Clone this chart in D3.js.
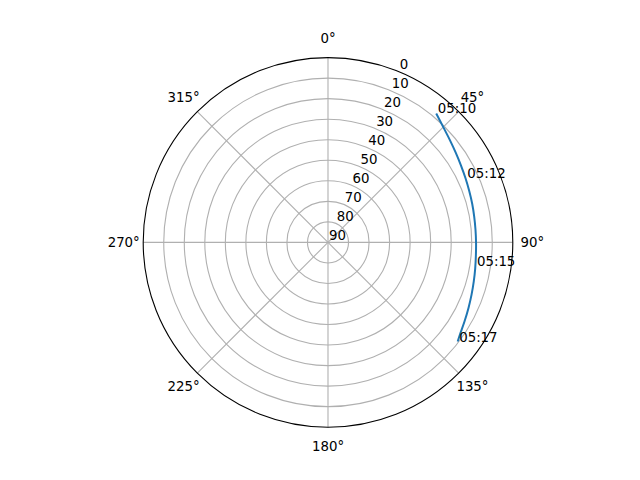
<!DOCTYPE html>
<html>
<head>
<meta charset="utf-8">
<script src="https://cdn.jsdelivr.net/npm/d3@7"></script>
<style>
  body { margin: 0; background: #fff; }
  text { font-family: "DejaVu Sans", sans-serif; font-size: 13.33px; fill: #000; }
</style>
</head>
<body>
<div id="chart"></div>
<script>
// satellite track: azimuth (deg, clockwise from north) and elevation (deg)
var trackAz = [40, 45, 50, 55, 60, 65, 70, 75, 80, 85, 90, 95, 100, 105, 110, 115, 120, 125, 127.4];
var trackEl = [8, 10.6, 12.5, 14.0, 15.2, 16.1, 16.8, 17.3, 17.7, 17.9, 17.9, 17.7, 17.2, 16.5, 15.6, 14.5, 13.2, 11.6, 10.5];

// time labels along the track
var labelTimes = ["05:10", "05:12", "05:15", "05:17"];
var labelAz = [40, 65, 99, 127.4];
var labelEl = [8, 16, 17.3, 10.5];

// axis ticks
var elTicks = [0, 10, 20, 30, 40, 50, 60, 70, 80, 90];
var azTicks = [0, 45, 90, 135, 180, 225, 270, 315];

var width = 640, height = 480;
var cx = 328, cy = 242.4, R = 184.8;

var svg = d3.select("#chart")
  .append("svg")
  .attr("width", width)
  .attr("height", height);

var g = svg.append("g")
  .attr("transform", "translate(" + cx + "," + cy + ")");

// elevation 90 at the centre, 0 at the rim
var r = d3.scaleLinear().domain([90, 0]).range([0, R]);
var a = d3.scaleLinear().domain([0, 360]).range([0, 2 * Math.PI]);

function px(az, el) {
  var t = a(az);
  return [r(el) * Math.sin(t), -r(el) * Math.cos(t)];
}

// grid circles
g.selectAll(".ring")
  .data(elTicks.filter(function(d) { return d > 0 && d < 90; }))
  .enter()
  .append("circle")
  .attr("r", function(d) { return r(d); })
  .attr("fill", "none")
  .attr("stroke", "#b0b0b0")
  .attr("stroke-width", 1.1);

// spokes
g.selectAll(".spoke")
  .data(azTicks)
  .enter()
  .append("line")
  .attr("x1", 0).attr("y1", 0)
  .attr("x2", function(d) { return px(d, 0)[0]; })
  .attr("y2", function(d) { return px(d, 0)[1]; })
  .attr("stroke", "#b0b0b0")
  .attr("stroke-width", 1.1);

// track
var line = d3.lineRadial()
  .angle(function(d) { return a(d[0]); })
  .radius(function(d) { return r(d[1]); });

g.append("path")
  .datum(d3.zip(trackAz, trackEl))
  .attr("d", line.curve(d3.curveCatmullRom))
  .attr("fill", "none")
  .attr("stroke", "#1f77b4")
  .attr("stroke-width", 2);

// outer rim
g.append("circle")
  .attr("r", R)
  .attr("fill", "none")
  .attr("stroke", "#000")
  .attr("stroke-width", 1.1);

// azimuth labels
g.selectAll(".azlab")
  .data(azTicks)
  .enter()
  .append("text")
  .attr("x", function(d) { return (R + 19.5) * Math.sin(a(d)); })
  .attr("y", function(d) { return -(R + 19.5) * Math.cos(a(d)); })
  .attr("text-anchor", "middle")
  .attr("dominant-baseline", "central")
  .text(function(d) { return d + "°"; });

// elevation labels along 22.5°
g.selectAll(".ellab")
  .data(elTicks)
  .enter()
  .append("text")
  .attr("x", function(d) { return px(22.5, d)[0] + 1; })
  .attr("y", function(d) { return px(22.5, d)[1] - 2.5; })
  .text(function(d) { return d; });

// time labels
g.selectAll(".tlab")
  .data(labelTimes)
  .enter()
  .append("text")
  .attr("x", function(d, i) { return px(labelAz[i], labelEl[i])[0] + 1.5; })
  .attr("y", function(d, i) { return px(labelAz[i], labelEl[i])[1]; })
  .text(function(d) { return d; });
</script>
</body>
</html>
